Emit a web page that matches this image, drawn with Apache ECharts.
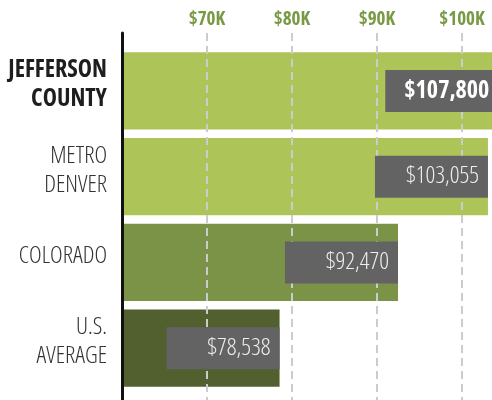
<!DOCTYPE html>
<html lang="en">

<head>
  <meta charset="UTF-8">
  <title>Median household income</title>
  <style>
    html, body { margin: 0; padding: 0; background: #fff; }
  </style>
</head>

<body>
  <div id="echarts" style="width: 492px; height: 400px;"></div>
  <script src="https://cdn.jsdelivr.net/npm/echarts@6/dist/echarts.min.js"></script>
  <script>
    const categories = ['JEFFERSON\nCOUNTY', 'METRO\nDENVER', 'COLORADO', 'U.S.\nAVERAGE'];
    const incomes = [107800, 103055, 92470, 78538];
    const axisMin = 60000;
    const axisMax = 110000;
    const axisStep = 10000;

    // one colour per bar, top to bottom
    const barColors = ['#adc558', '#adc558', '#7a9347', '#525f2f'];

    // the stretch keyword rides along with the weight so canvas picks the narrow width
    const font = "'Open Sans', sans-serif";
    const thin = '300 condensed';
    const heavy = 'bold condensed';

    function money(v) {
      return '$' + v.toLocaleString('en-US');
    }

    window.onload = function () {
      let echart = echarts.init(document.getElementById('echarts'));

      const barData = incomes.map((v, i) => ({
        value: v,
        itemStyle: { color: barColors[i] }
      }));

      const labelData = incomes.map((v, i) => {
        const item = { value: v };
        // the first label sits further in so it stays on the page
        if (i === 0) {
          item.label = { offset: [-30, 0], fontWeight: heavy, color: '#ffffff' };
        }
        return item;
      });

      let options = {
        animation: false,
        grid: [
          // grid 0: ticks, dashed lines and the black axis line
          { left: 122, width: 425, top: 33, bottom: 0, outerBoundsMode: 'none' },
          // grid 1: the bars
          { left: 122, width: 425, top: 48, height: 343, outerBoundsMode: 'none' }
        ],
        xAxis: [
          {
            gridIndex: 0,
            type: 'value',
            position: 'top',
            min: axisMin,
            max: axisMax,
            interval: axisStep,
            z: 3,
            axisLine: { show: false },
            axisTick: { show: false },
            axisLabel: {
              showMinLabel: false,
              margin: 4,
              color: '#789a45',
              fontFamily: font,
              fontWeight: heavy,
              fontSize: 19,
              formatter: v => '$' + (v / 1000) + 'K'
            },
            splitLine: {
              lineStyle: { color: '#cccccc', width: 2, type: [8, 5] }
            }
          },
          {
            gridIndex: 1,
            type: 'value',
            show: false,
            min: axisMin,
            max: axisMax
          }
        ],
        yAxis: [
          {
            gridIndex: 0,
            type: 'value',
            min: 0,
            max: 1,
            z: 3,
            axisLine: { show: true, onZero: false, lineStyle: { color: '#111111', width: 3 } },
            axisTick: { show: false },
            axisLabel: { show: false },
            splitLine: { show: false }
          },
          {
            gridIndex: 1,
            type: 'category',
            inverse: true,
            data: categories,
            axisLine: { show: false },
            axisTick: { show: false },
            axisLabel: {
              margin: 15,
              fontFamily: font,
              fontWeight: thin,
              fontSize: 24,
              lineHeight: 29,
              color: '#333333',
              align: 'right',
              padding: [0, 0, 12, 0],
              formatter: function (v, i) {
                if (i === 0) {
                  return v.split('\n').map(s => '{b|' + s + '}').join('\n');
                }
                return v;
              },
              rich: {
                b: { fontFamily: font, fontSize: 24, lineHeight: 29, fontWeight: heavy, color: '#1e1e1e' }
              }
            }
          }
        ],
        series: [
          {
            name: 'bars',
            type: 'bar',
            xAxisIndex: 1,
            yAxisIndex: 1,
            data: barData,
            barCategoryGap: '10%',
            silent: true,
            z: 1
          },
          {
            name: 'labels',
            type: 'bar',
            xAxisIndex: 1,
            yAxisIndex: 1,
            data: labelData,
            barCategoryGap: '10%',
            barGap: '-100%',
            silent: true,
            z: 5,
            itemStyle: { color: 'rgba(0,0,0,0)' },
            label: {
              show: true,
              position: 'insideRight',
              distance: 0,
              formatter: p => money(p.value),
              backgroundColor: '#636363',
              width: 104,
              height: 42,
              lineHeight: 42,
              padding: [0, 9, 0, 0],
              align: 'right',
              verticalAlign: 'middle',
              fontFamily: font,
              fontWeight: thin,
              fontSize: 24,
              color: '#eeeeee'
            }
          }
        ]
      };
      echart.setOption(options);
    };
  </script>
</body>

</html>
